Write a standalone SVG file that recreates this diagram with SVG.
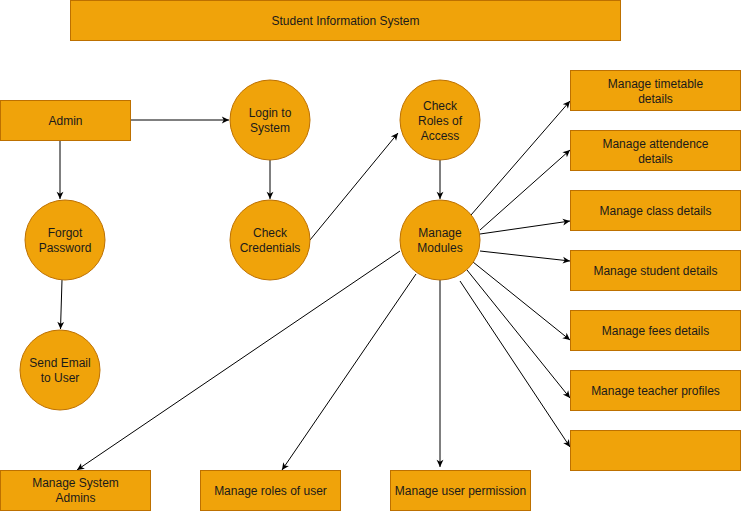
<svg xmlns="http://www.w3.org/2000/svg" width="741" height="511" viewBox="0 0 741 511">
<style>
.n{fill:#f0a30a;stroke:#bd7000;stroke-width:1}
.t{font-family:"Liberation Sans",Arial,sans-serif;font-size:12px;fill:#1a1a1a;text-anchor:middle;dominant-baseline:central}
.e{fill:none;stroke:#000;stroke-width:1;marker-end:url(#a)}
</style>
<defs>
<marker id="a" viewBox="0 0 10 10" refX="9" refY="5" markerWidth="9" markerHeight="9" markerUnits="userSpaceOnUse" orient="auto">
<path d="M1,1.2 L9,5 L1,8.8 L3.2,5 z" fill="#000"/>
</marker>
</defs>
<rect width="741" height="511" fill="#fff"/>
<g id="edges">
<line class="e" x1="130" y1="120" x2="229" y2="120"/>
<line class="e" x1="60" y1="140" x2="60" y2="199"/>
<line class="e" x1="62" y1="280" x2="60.5" y2="329"/>
<line class="e" x1="270" y1="160" x2="270" y2="199"/>
<line class="e" x1="310" y1="240" x2="398" y2="133"/>
<line class="e" x1="440" y1="160" x2="440" y2="199"/>
<line class="e" x1="471" y1="215" x2="570" y2="101"/>
<line class="e" x1="480" y1="230" x2="570" y2="150"/>
<line class="e" x1="480" y1="234" x2="570" y2="221"/>
<line class="e" x1="480" y1="251" x2="570" y2="261"/>
<line class="e" x1="473" y1="262" x2="570" y2="340"/>
<line class="e" x1="467" y1="270" x2="570" y2="398"/>
<line class="e" x1="460" y1="281" x2="570" y2="447"/>
<line class="e" x1="440" y1="280" x2="440" y2="467"/>
<line class="e" x1="416" y1="274" x2="282" y2="470"/>
<line class="e" x1="400" y1="251" x2="77" y2="470"/>
</g>
<g id="title"><rect class="n" x="70.5" y="0.5" width="550" height="40"/><text class="t" x="345.5" y="20.5">Student Information System</text></g>
<g id="admin"><rect class="n" x="0.5" y="100.5" width="130" height="40"/><text class="t" x="65.5" y="120.5">Admin</text></g>
<g id="login"><circle class="n" cx="270" cy="120" r="40"/><text class="t" x="270" y="113">Login to</text><text class="t" x="270" y="128">System</text></g>
<g id="checkcred"><circle class="n" cx="270" cy="240" r="40"/><text class="t" x="270" y="233">Check</text><text class="t" x="270" y="248">Credentials</text></g>
<g id="forgot"><circle class="n" cx="65" cy="240" r="40"/><text class="t" x="65" y="233">Forgot</text><text class="t" x="65" y="248">Password</text></g>
<g id="sendemail"><circle class="n" cx="60" cy="370" r="40"/><text class="t" x="60" y="363">Send Email</text><text class="t" x="60" y="378">to User</text></g>
<g id="checkroles"><circle class="n" cx="440" cy="120" r="40"/><text class="t" x="440" y="106">Check</text><text class="t" x="440" y="121">Roles of</text><text class="t" x="440" y="136">Access</text></g>
<g id="modules"><circle class="n" cx="440" cy="240" r="40"/><text class="t" x="440" y="233">Manage</text><text class="t" x="440" y="248">Modules</text></g>
<g id="timetable"><rect class="n" x="570.5" y="70.5" width="170" height="40"/><text class="t" x="655.5" y="84">Manage timetable</text><text class="t" x="655.5" y="99">details</text></g>
<g id="attendence"><rect class="n" x="570.5" y="130.5" width="170" height="40"/><text class="t" x="655.5" y="144">Manage attendence</text><text class="t" x="655.5" y="159">details</text></g>
<g id="class"><rect class="n" x="570.5" y="190.5" width="170" height="40"/><text class="t" x="655.5" y="210.5">Manage class details</text></g>
<g id="student"><rect class="n" x="570.5" y="250.5" width="170" height="40"/><text class="t" x="655.5" y="270.5">Manage student details</text></g>
<g id="fees"><rect class="n" x="570.5" y="310.5" width="170" height="40"/><text class="t" x="655.5" y="330.5">Manage fees details</text></g>
<g id="teacher"><rect class="n" x="570.5" y="370.5" width="170" height="40"/><text class="t" x="655.5" y="390.5">Manage teacher profiles</text></g>
<g id="empty"><rect class="n" x="570.5" y="430.5" width="170" height="40"/></g>
<g id="sysadmins"><rect class="n" x="0.5" y="470.5" width="150" height="40"/><text class="t" x="75.5" y="483">Manage System</text><text class="t" x="75.5" y="498">Admins</text></g>
<g id="roles"><rect class="n" x="200.5" y="470.5" width="140" height="40"/><text class="t" x="270.5" y="490.5">Manage roles of user</text></g>
<g id="permission"><rect class="n" x="390.5" y="470.5" width="140" height="40"/><text class="t" x="460.5" y="490.5">Manage user permission</text></g>
</svg>
